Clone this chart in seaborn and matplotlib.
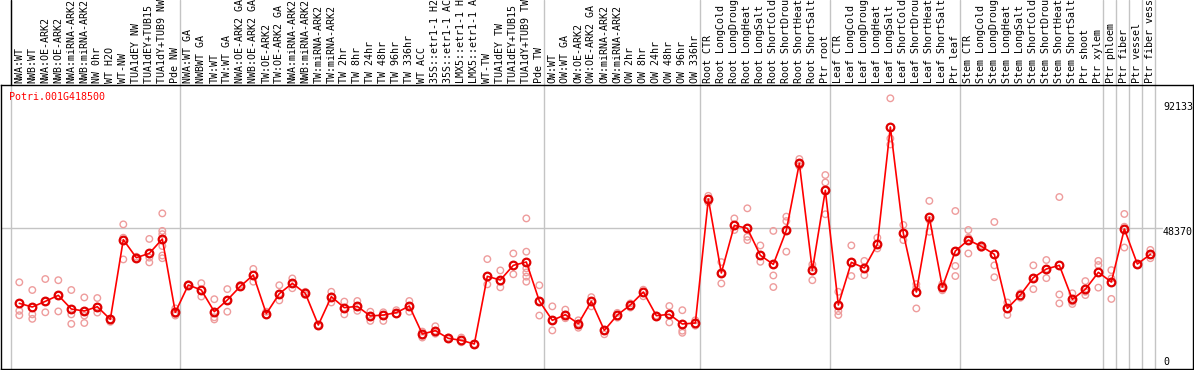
import numpy as np
import pandas as pd
import matplotlib
matplotlib.use("Agg")
import matplotlib.pyplot as plt
import seaborn as sns

# sample names (top labels), 88 samples
names = [
    "NWA:WT", "NWB:WT", "NWA:OE-ARK2", "NWB:OE-ARK2", "NWA:miRNA-ARK2", "NWB:miRNA-ARK2",
    "NW 0hr", "WT H2O", "WT-NW", "TUA1dEY NW", "TUA1dEY+TUB15 NW", "TUA1dY+TUB9 NW", "Pde NW",
    "NWA:WT GA", "NWBWT GA", "TW:WT", "TW:WT GA", "NWA:OE-ARK2 GA", "NWB:OE-ARK2 GA",
    "TW:OE-ARK2", "TW:OE-ARK2 GA", "NWA:miRNA-ARK2", "NWB:miRNA-ARK2", "TW:miRNA-ARK2",
    "TW:miRNA-ARK2", "TW 2hr", "TW 8hr", "TW 24hr", "TW 48hr", "TW 96hr", "TW 336hr", "WT ACC",
    "35S::etr1-1 H2O", "35S::etr1-1 ACC", "LMX5::etr1-1 H2O", "LMX5::etr1-1 ACC", "WT-TW",
    "TUA1dEY TW", "TUA1dEY+TUB15 TW", "TUA1dY+TUB9 TW", "Pde TW",
    "OW:WT", "OW:WT GA", "OW:OE-ARK2", "OW:OE-ARK2 GA", "OW:miRNA-ARK2", "OW:miRNA-ARK2",
    "OW 2hr", "OW 8hr", "OW 24hr", "OW 48hr", "OW 96hr", "OW 336hr",
    "Root CTR", "Root LongCold", "Root LongDrought", "Root LongHeat", "Root LongSalt",
    "Root ShortCold", "Root ShortDrought", "Root ShortHeat", "Root ShortSalt", "Ptr root",
    "Leaf CTR", "Leaf LongCold", "Leaf LongDrought", "Leaf LongHeat", "Leaf LongSalt",
    "Leaf ShortCold", "Leaf ShortDrought", "Leaf ShortHeat", "Leaf ShortSalt", "Ptr leaf",
    "Stem CTR", "Stem LongCold", "Stem LongDrought", "Stem LongHeat", "Stem LongSalt",
    "Stem ShortCold", "Stem ShortDrought", "Stem ShortHeat", "Stem ShortSalt", "Ptr shoot",
    "Ptr xylem", "Ptr phloem", "Ptr fiber", "Ptr vessel", "Ptr fiber vessel",
]

# mean expression per sample (red line)
means = [
    23113, 21879, 23786, 25806, 21206, 20532, 21991, 17727, 44543, 38484, 39943, 44768, 20084,
    29284, 27601, 20308, 24235, 28835, 32650, 19635, 26367, 29845, 26479, 15820, 25357, 21654,
    22103, 18849, 19186, 19971, 22215, 12791, 13913, 11332, 10659, 9425, 32201, 30967, 35904,
    37026, 23898,
    17391, 19298, 16269, 23786, 14025, 19186, 22552, 26928, 18962, 19410, 16157, 16493,
    58232, 33323, 49368, 48358, 39270, 36240, 47685, 70237, 34221, 61149,
    22552, 36914, 35006, 42972, 82467, 46675, 26928, 52061, 28611, 40728,
    44431, 42299, 39606, 21430, 25918, 31752, 34670, 35904, 24459, 27825, 33548,
    30294, 48134, 36353, 39606,
]

# individual replicates per sample (pink circles)
reps = [
    [30200, 20600, 19100], [27600, 19400, 17900], [31300, 23700, 20100], [30900, 25800, 20400],
    [27600, 19400, 16200], [25100, 20500, 19000, 16500], [24900, 22000, 20000], [17700, 16900],
    [49700, 45200, 37900], [38800, 38300], [44800, 38500, 36900],
    [53400, 47500, 46400, 42400, 39200, 38300], [21400, 19400, 19000],
    [29500, 29100], [29900, 27600, 25400], [24500, 20300, 18400, 17700], [27900, 24200, 20300],
    [29300, 28600], [34700, 32600, 30400], [20300, 19200], [29200, 26400, 24100],
    [31500, 29800, 28200], [27000, 25900], [15800, 15800], [27000, 25400, 23400],
    [23700, 21600, 19400], [23900, 22100, 20600], [20300, 18800, 17200], [20100, 19200, 17200],
    [20800, 19500], [23900, 22200, 20300], [13600, 12200, 11600], [15400, 13900, 12900],
    [11600, 11100], [11600, 10000], [9400], [38000, 29500], [34200, 30400, 28500],
    [39900, 32900], [51700, 40500, 34900, 33500, 32100, 30400], [29200, 23900, 19000],
    [22100, 17400, 14000], [21000, 19300, 18100], [17400, 16300, 14900], [25200, 23800, 22100],
    [14000, 12700], [19900, 18300], [23100, 21700], [27700, 25500], [19000],
    [22200, 19400, 16700], [20800, 13900, 13200], [17400, 15600],
    [59300, 58200, 57100], [37000, 33300, 29800], [51700, 49400, 47800],
    [55100, 48400, 45500, 44400], [42600, 39300, 37100], [47500, 36200, 32500, 28600],
    [52300, 50800, 47700, 40500], [71700, 70200, 69300], [36200, 35100, 30900],
    [66300, 63800, 61100, 53100],
    [27000, 22500, 20500, 19200], [42600, 36900, 32300], [37400, 35000, 32600],
    [45200, 43000, 41600], [92133, 78600, 76600], [49500, 46700, 44400], [29600, 28400, 21400],
    [57600, 51200, 47200], [29600, 28600, 27500], [54200, 40700, 35700, 32300],
    [47800, 45200, 44400, 39900], [42700, 41800], [50500, 35900, 31900], [23400, 21400, 19200],
    [26500, 25000], [35900, 31700, 27900], [37700, 34700, 31600], [58900, 26100, 23100],
    [26500, 23700, 22900], [30600, 27000, 25900], [37400, 36000, 28400],
    [34300, 31500, 24600], [53200, 48900, 41900], [36300], [41100, 39400, 38300],
]

# first sample index of each group (separators drawn before these)
group_starts = [0, 13, 41, 53, 63, 73, 84, 85, 86, 87, 88]

gene = "Potri.001G418500"
y_marks = ["92133", "48370", "0"]

sns.set_theme(style="white")
plt.rcParams['font.family'] = ['DejaVu Sans Mono']

W, H = 1194, 370
fig = plt.figure(figsize=(W / 100, H / 100), dpi=100)
ax = fig.add_axes([1 / W, 1 / H, 1192 / W, 284 / H])

rows = []
for i, vals in enumerate(reps):
    for v in vals:
        rows.append({'idx': i, 'value': v})
rep_df = pd.DataFrame(rows)

# replicates
sns.scatterplot(data=rep_df, x='idx', y='value', ax=ax, s=22, marker='o', zorder=3)
pts = ax.collections[-1]
pts.set_facecolor('none')
pts.set_edgecolor('#ee9c9c')
pts.set_linewidth(1.0)

# group separators, running through the label strip too
for k in group_starts:
    ax.axvline(k - 0.62, ymin=0, ymax=369 / 284, color='#c4c4c4', lw=1,
               clip_on=False, zorder=1)
ax.axvline(group_starts[0] - 0.62, ymin=1, ymax=369 / 284, color='black', lw=1,
           clip_on=False, zorder=2)
ax.axhline(48370, xmin=0, xmax=1161 / 1192, color='#c4c4c4', lw=1, zorder=1)

# mean line
sns.lineplot(x=np.arange(len(means)), y=means, ax=ax, color='red', lw=1.2,
             marker='o', markersize=5.5, markerfacecolor='none',
             markeredgecolor='#e00000', markeredgewidth=1.6, zorder=4)

ax.set_xlim(-1.408, 90.28)
ax.set_ylim(1010, 96613)
ax.set_xlabel('')
ax.set_ylabel('')
ax.set_yticks([])
ax.set_xticks(np.arange(len(names)))
ax.set_xticklabels(names, rotation=90, fontsize=7.2, fontfamily='DejaVu Sans Mono')
ax.tick_params(axis='x', top=True, labeltop=True, bottom=False, labelbottom=False,
               length=0, pad=1.5, colors='black')
for s in ax.spines.values():
    s.set_color('black')
    s.set_linewidth(1)
ax.grid(False)

# labels in pixel positions
def px(x, y):
    return x / W, 1 - y / H

fig.text(*px(9, 97.5), gene, color='red', fontsize=7.2, va='center', ha='left')
for lab, yy in zip(y_marks, [107.5, 231.7, 361.7]):
    fig.text(*px(1163, yy), lab, color='black', fontsize=7.2, va='center', ha='left')

fig.savefig('out.png', dpi=100)
